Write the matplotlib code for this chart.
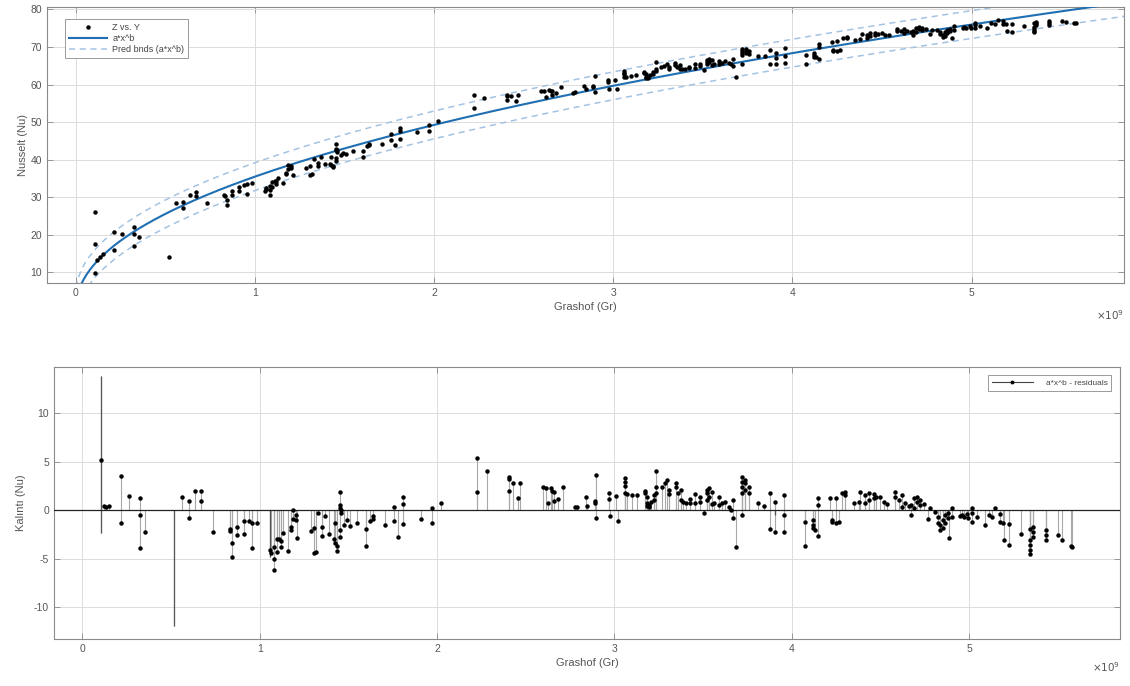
import numpy as np
import matplotlib
matplotlib.use("Agg")
import matplotlib.pyplot as plt
from matplotlib.lines import Line2D

plt.rcParams["font.family"] = ["Liberation Sans", "DejaVu Sans"]
plt.rcParams["axes.unicode_minus"] = False

# fitted model Nu = a * Gr^b  (Gr in units of 1e9)
fit_a = 35.5
fit_b = 0.473
pred_halfwidth = 3.7

# Grashof (x 1e9) and residuals
grashof = [
    0.106, 0.106, 0.106, 0.120, 0.135, 0.150, 0.216, 0.216, 0.261,
    0.325, 0.325, 0.325, 0.353, 0.518, 0.560, 0.599, 0.599, 0.637,
    0.670, 0.670, 0.734, 0.830, 0.832, 0.843, 0.843, 0.873, 0.873,
    0.913, 0.913, 0.937, 0.956, 0.956, 0.984,
    1.060, 1.062, 1.058, 1.082, 1.082, 1.082, 1.095, 1.095, 1.110,
    1.119, 1.119, 1.131, 1.157, 1.176, 1.176, 1.187, 1.187, 1.202,
    1.202, 1.210, 1.287, 1.306, 1.306, 1.318, 1.330, 1.350, 1.350,
    1.370, 1.389, 1.420, 1.427, 1.427, 1.437, 1.437, 1.450, 1.450,
    1.450, 1.454, 1.454, 1.461, 1.461, 1.478, 1.491, 1.510, 1.549,
    1.602, 1.602, 1.623, 1.636, 1.636, 1.709, 1.759, 1.759, 1.780,
    1.810, 1.810, 1.810, 1.907, 1.970, 1.970, 2.021,
    2.224, 2.224, 2.280, 2.406, 2.406, 2.406, 2.428, 2.458, 2.468,
    2.599, 2.612, 2.627, 2.640, 2.650, 2.659, 2.659, 2.680, 2.710,
    2.777, 2.789, 2.838, 2.847, 2.888, 2.888, 2.898, 2.898, 2.969,
    2.969, 2.976, 3.007, 3.022,
    3.057, 3.057, 3.057, 3.057, 3.072, 3.100, 3.128, 3.170, 3.170,
    3.181, 3.181, 3.181, 3.193, 3.193, 3.207, 3.223, 3.223, 3.236,
    3.236, 3.236, 3.268, 3.283, 3.298, 3.309, 3.309, 3.345, 3.345,
    3.358, 3.373, 3.373, 3.386, 3.401, 3.425, 3.425, 3.457, 3.457,
    3.485, 3.485, 3.504, 3.523, 3.523, 3.523, 3.536, 3.536, 3.551,
    3.551, 3.564, 3.589, 3.589, 3.607, 3.626, 3.645, 3.658, 3.669,
    3.669, 3.684, 3.718, 3.718, 3.718, 3.718, 3.718, 3.739, 3.739,
    3.739, 3.758, 3.758, 3.808, 3.846, 3.876, 3.876, 3.908, 3.908,
    3.908, 3.959, 3.959, 3.959,
    4.077, 4.077, 4.118, 4.118, 4.118, 4.130, 4.148, 4.148, 4.148,
    4.218, 4.227, 4.227, 4.250, 4.250, 4.265, 4.284, 4.303, 4.303,
    4.349, 4.377, 4.387, 4.415, 4.415, 4.434, 4.434, 4.462, 4.462,
    4.475, 4.499, 4.518, 4.538, 4.585, 4.585, 4.603, 4.622, 4.622,
    4.641, 4.659, 4.675, 4.675, 4.687, 4.687, 4.706, 4.706, 4.725,
    4.725, 4.744, 4.768, 4.781, 4.809, 4.824, 4.824, 4.838, 4.838,
    4.851, 4.851, 4.865, 4.865, 4.880, 4.880, 4.888, 4.903, 4.903,
    4.950, 4.969, 4.988, 4.959, 4.995,
    5.016, 5.016, 5.016, 5.044, 5.087, 5.110, 5.128, 5.147, 5.176,
    5.176, 5.189, 5.198, 5.226, 5.226, 5.294, 5.345, 5.345, 5.345,
    5.345, 5.345, 5.358, 5.358, 5.358, 5.433, 5.433, 5.433, 5.504,
    5.526, 5.572, 5.583,
]
residual = [
    13.9, 5.2, -2.3, 0.4, 0.3, 0.4, 3.54, -1.27, 1.48,
    1.27, -0.52, -3.88, -2.23, -12.0, 1.41, 0.96, -0.76, 2.03,
    2.03, 0.93, -2.2, -1.96, -2.1, -3.33, -4.85, -1.68, -2.54,
    -1.13, -2.4, -1.13, -1.27, -3.85, -1.34,
    -4.1, -4.4, -4.8, -3.8, -5.0, -6.15, -4.36, -2.96, -2.96,
    -3.8, -3.2, -2.37, -4.2, -1.75, -2.0, -0.86, 0.0, -0.5,
    -1.0, -2.9, -2.1, -1.86, -4.43, -4.3, -0.3, -1.7, -2.65,
    -0.58, -2.5, -3.0, -3.4, -1.34, -3.7, -4.16, 1.86, 0.52,
    0.2, -2.8, -2.0, -0.3, 0.05, -1.5, -1.0, -1.6, -1.27,
    -3.68, -1.92, -1.1, -0.9, -0.58, -1.55, 0.38, -1.1, -2.8,
    1.41, 0.65, -1.4, -0.9, 0.27, -1.27, 0.72,
    5.36, 1.86, 4.09, 3.47, 3.2, 2.03, 2.85, 1.24, 2.85,
    2.44, 2.27, 0.72, 2.34, 2.03, 1.89, 0.93, 1.13, 2.37,
    0.34, 0.34, 1.37, 0.48, 0.96, 0.8, 3.64, -0.76, 1.82,
    1.2, -0.58, 1.48, -1.1,
    3.37, 2.96, 2.5, 1.75, 1.68, 1.58, 1.55, 2.03, 1.75,
    1.41, 0.72, 0.45, 0.55, 0.38, 0.86, 1.07, 1.58, 4.09,
    2.37, 1.82, 2.44, 2.78, 3.13, 2.1, 1.68, 2.85, 2.44,
    1.75, 2.1, 1.07, 0.89, 0.72, 1.13, 0.79, 1.68, 0.72,
    1.41, 0.89, -0.31, 2.1, 1.75, 1.07, 2.27, 1.41, 1.92,
    0.62, 0.72, 1.34, 0.55, 0.72, 0.89, 0.38, 0.03, 1.07,
    -0.82, -3.75, 3.4, 2.96, 2.44, 1.75, -0.48, 3.13, 2.78,
    2.1, 2.44, 1.75, 0.79, 0.45, 1.75, -1.96, 0.82, -0.48,
    -2.27, 1.58, -0.48, -2.2,
    -1.17, -3.64, -1.0, -1.5, -1.86, -2.03, 1.24, 0.55, -2.65,
    1.3, -1.17, -1.0, 1.24, -1.34, -1.17, 1.75, 1.92, 1.58,
    0.79, 0.89, 1.92, 1.58, 0.72, 1.82, 1.07, 1.68, 1.24,
    1.34, 1.41, 0.89, 0.65, 1.92, 1.41, 1.07, 1.58, 0.38,
    0.79, 0.45, 0.55, -0.48, 1.24, 0.2, 1.41, 0.89, 1.07,
    0.55, 0.65, -0.93, 0.2, -0.14, -0.65, -1.27, -1.5, -2.03,
    -1.0, -1.86, -0.48, -1.27, -0.24, -0.82, -2.82, 0.2, -0.65,
    -0.58, -0.72, -0.38, -0.48, -0.82,
    0.2, -0.31, -1.17, -0.65, -1.5, -0.48, -0.72, 0.27, -0.38,
    -1.17, -1.27, -3.06, -1.41, -3.61, -2.44, -1.96, -3.06, -3.57,
    -4.09, -4.5, -1.75, -2.2, -2.71, -2.03, -2.54, -3.06, -2.54,
    -3.06, -3.68, -3.8,
]
# stems drawn without a marker in the reference
stem_only = [0, 2, 13, 35, 196]

x_ticks = [0, 1, 2, 3, 4, 5]
top_yticks = [10, 20, 30, 40, 50, 60, 70, 80]
bot_yticks = [-10, -5, 0, 5, 10]

gr = np.array(grashof)
res = np.array(residual)
nusselt = fit_a * gr ** fit_b + res

xx = np.linspace(0.003, 5.85, 600)
fit_curve = fit_a * xx ** fit_b

fig = plt.figure(figsize=(11.3, 6.86), dpi=100)
ax1 = fig.add_axes([0.0416, 0.5875, 0.9531, 0.4025])
ax2 = fig.add_axes([0.0478, 0.0685, 0.9432, 0.3965])

axis_col = "#555555"
grid_col = "#dcdcdc"


def style(ax, offset_y):
    ax.grid(True, color=grid_col, linewidth=0.7)
    ax.set_axisbelow(True)
    for s in ax.spines.values():
        s.set_color("#8a8a8a")
        s.set_linewidth(0.8)
    ax.tick_params(direction="in", length=4, width=0.6, colors="#8a8a8a",
                   labelcolor=axis_col, labelsize=7.5, top=True, right=True)
    ax.set_xticks(x_ticks)
    ax.set_xlim(-0.16, 5.85)
    ax.set_xlabel("Grashof (Gr)", fontsize=8, color=axis_col, labelpad=3)
    ax.text(1.0, offset_y, r"$\times 10^{9}$", transform=ax.transAxes,
            ha="right", va="center", fontsize=7.5, color=axis_col)


# top: data + fit + prediction bounds
ax1.plot(xx, fit_curve + pred_halfwidth, color="#a3c3e3", lw=1.1,
         dashes=(4, 3), zorder=2)
ax1.plot(xx, fit_curve - pred_halfwidth, color="#a3c3e3", lw=1.1,
         dashes=(4, 3), zorder=2)
ax1.plot(xx, fit_curve, color="#1f6fb2", lw=1.5, zorder=3)
ax1.plot(gr, nusselt, "o", color="black", ms=3.2, mec="none", zorder=4)
style(ax1, -0.118)
ax1.set_ylim(7.2, 80.7)
ax1.set_yticks(top_yticks)
ax1.set_ylabel("Nusselt (Nu)", fontsize=8, color=axis_col, labelpad=2)
handles = [
    Line2D([], [], ls="none", marker="o", color="black", ms=3.2, mec="none"),
    Line2D([], [], color="#1f6fb2", lw=1.5),
    Line2D([], [], color="#a3c3e3", lw=1.1, dashes=(4, 3)),
]
leg = ax1.legend(handles, ["Z vs. Y", "a*x^b", "Pred bnds (a*x^b)"],
                 loc="upper left", bbox_to_anchor=(0.017, 0.955),
                 fontsize=6.5, frameon=True, fancybox=False, framealpha=1,
                 borderpad=0.4, labelspacing=0.25, handlelength=4.2,
                 handletextpad=0.6, borderaxespad=0)
leg.get_frame().set_edgecolor("#9a9a9a")
leg.get_frame().set_linewidth(0.7)
for t in leg.get_texts():
    t.set_color("#444444")

# bottom: residual stems
ax2.vlines(gr, 0, res, color="#a8a8a8", lw=0.8, zorder=2)
big = np.zeros(len(gr), dtype=bool)
big[stem_only] = True
ax2.vlines(gr[big], 0, res[big], color="#555555", lw=0.9, zorder=2)
ax2.plot(gr[~big], res[~big], "o", color="black", ms=3.2, mec="none",
         zorder=4)
ax2.axhline(0, color="#222222", lw=0.9, zorder=3)
style(ax2, -0.105)
ax2.set_ylim(-13.3, 14.8)
ax2.set_yticks(bot_yticks)
ax2.set_ylabel("Kalıntı (Nu)", fontsize=8, color=axis_col, labelpad=6)
rh = Line2D([], [], color="#444444", lw=0.8, marker="o", ms=2.8,
            mec="none", mfc="black")
leg2 = ax2.legend([rh], ["a*x^b - residuals"], loc="upper right",
                  bbox_to_anchor=(0.992, 0.97), fontsize=6, frameon=True,
                  fancybox=False, framealpha=1, borderpad=0.45,
                  handlelength=5.0, handletextpad=1.5, borderaxespad=0)
leg2.get_frame().set_edgecolor("#9a9a9a")
leg2.get_frame().set_linewidth(0.7)
for t in leg2.get_texts():
    t.set_color("#444444")

fig.savefig("out.png", dpi=100)
